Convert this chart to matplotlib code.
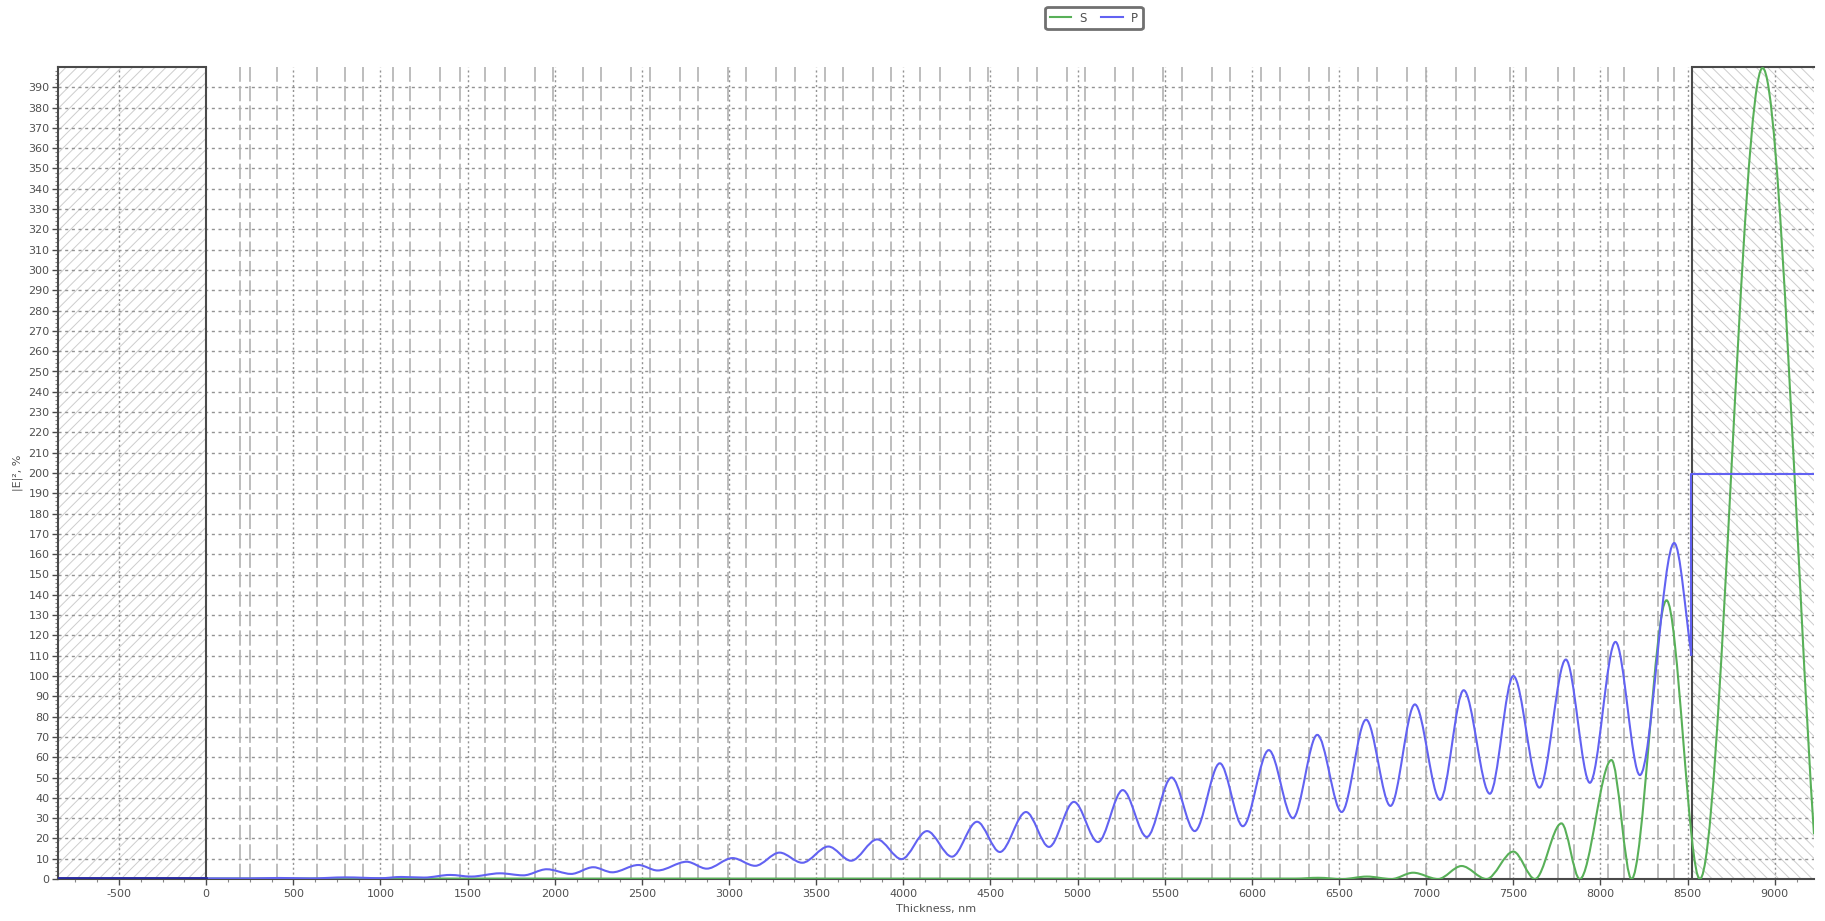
import matplotlib
matplotlib.use("Agg")
import matplotlib.pyplot as plt
from matplotlib.path import Path
from matplotlib.patches import PathPatch, Rectangle
from matplotlib.lines import Line2D

# ---------------- data ----------------
x_range = (-850, 9225)
y_range = (0, 400)
substrate_end = 0
stack_end = 8525

# layer interfaces inside the coating, nm
layer_bounds = [195, 252, 407, 637, 797, 901, 1073, 1170, 1342, 1457, 1600, 1715,
                1887, 1990, 2163, 2268, 2440, 2545, 2717, 2822, 2994, 3099, 3271,
                3376, 3548, 3653, 3825, 3930, 4096, 4210, 4383, 4488, 4660, 4765,
                4937, 5042, 5214, 5319, 5491, 5597, 5769, 5874, 6050, 6161, 6330,
                6440, 6610, 6720, 6890, 7000, 7170, 7280, 7480, 7570, 7757, 7847,
                8044, 8134, 8330, 8420]

# P polarisation: extrema of |E|^2 (x in nm, y in %)
p_x = [-850, 0, 250, 420, 600, 800, 1000, 1120, 1250, 1400, 1520, 1686, 1820,
       1954, 2094, 2221, 2330, 2480, 2590, 2757, 2872, 3020, 3150, 3290, 3420,
       3570, 3700, 3850, 3990, 4136, 4279, 4423, 4554, 4704, 4836, 4979, 5117,
       5259, 5397, 5539, 5672, 5816, 5948, 6097, 6235, 6375, 6515, 6655, 6795,
       6935, 7080, 7215, 7365, 7500, 7650, 7801, 7939, 8086, 8226, 8423, 8522]
p_y = [0.3, 0.3, 0.3, 0.5, 0.3, 0.8, 0.4, 1.0, 0.7, 2.0, 1.2, 2.8, 1.8,
       4.8, 2.5, 5.8, 3.3, 6.9, 4.2, 8.5, 5.1, 10.3, 6.5, 13.0, 8.0,
       16.0, 9.0, 19.5, 9.8, 23.6, 11.0, 28.2, 13.3, 33.0, 15.8, 38.0, 18.2,
       43.8, 20.7, 50.0, 23.6, 57.0, 26.0, 63.5, 30.0, 71.0, 33.0, 78.5, 36.0,
       86.0, 39.0, 93.0, 42.0, 100.0, 45.0, 108.1, 47.4, 116.8, 51.2, 165.5, 110.3]
p_ambient = 199.5

# S polarisation: extrema of |E|^2
s_x = [-850, 6250, 6380, 6520, 6660, 6801, 6925, 7068, 7203, 7346, 7500, 7624,
       7776, 7881, 8063, 8178, 8379, 8570, 8930, 9225]
s_y = [0.2, 0.2, 0.6, 0.0, 1.2, 0.0, 3.1, 0.0, 6.4, 0.0, 13.5, 0.0,
       27.4, 0.0, 58.6, 0.0, 137.3, 0.0, 399.5, 22.0]

x_ticks = list(range(-500, 9001, 500))
y_ticks = list(range(0, 391, 10))

# ---------------- styling ----------------
plt.rcParams["font.family"] = ["DejaVu Sans"]
plt.rcParams["axes.unicode_minus"] = False
plt.rcParams["lines.scale_dashes"] = False
plt.rcParams["hatch.linewidth"] = 0.7

C_P = "#6262f2"
C_S = "#58b058"
C_FRAME = "#4a4a4a"
C_GRID = "#939393"
C_LAYER = "#b2b2b2"
C_TEXT = "#505050"

fig = plt.figure(figsize=(18.25, 9.21), dpi=100)
ax = fig.add_axes([58 / 1825, 1 - 879 / 921, (1814 - 58) / 1825, (879 - 67) / 921])
ax.set_xlim(*x_range)
ax.set_ylim(*y_range)


def smooth_path(xs, ys, free_end=False):
    verts = [(xs[0], ys[0])]
    codes = [Path.MOVETO]
    n = len(xs)
    for i in range(n - 1):
        x0, y0, x1, y1 = xs[i], ys[i], xs[i + 1], ys[i + 1]
        dx = x1 - x0
        c1 = (x0 + dx / 3, y0)
        if free_end and i == n - 2:
            c2 = (x0 + 2 * dx / 3, y0 + 2 * (y1 - y0) / 3)
        else:
            c2 = (x1 - dx / 3, y1)
        verts += [c1, c2, (x1, y1)]
        codes += [Path.CURVE4] * 3
    return Path(verts, codes)


# hatched substrate / ambient regions
for (a, b, h) in [(x_range[0], substrate_end, "///"), (stack_end, x_range[1], "\\\\\\")]:
    ax.add_patch(Rectangle((a, 0), b - a, 400, fill=False, hatch=h,
                           edgecolor="#cdcdcd", linewidth=0, zorder=0.5))

# grid: horizontal dotted
for y in y_ticks[1:]:
    ax.axhline(y, color=C_GRID, lw=1.0, ls=(0, (2.2, 2.6)), zorder=1)
# vertical dotted at major ticks
for x in x_ticks:
    if x != 0:
        ax.axvline(x, color=C_GRID, lw=1.0, ls=(0, (1.5, 2.0)), zorder=1)
# layer interfaces
for x in layer_bounds:
    ax.axvline(x, color=C_LAYER, lw=1.2, ls=(0, (11, 3)), zorder=1.2)

# frames of substrate / ambient
ax.plot([substrate_end, substrate_end], [0, 400], color=C_FRAME, lw=1.5, zorder=2)
ax.plot([x_range[0], substrate_end], [400, 400], color=C_FRAME, lw=1.5, zorder=2, clip_on=False)
ax.plot([stack_end, stack_end], [0, 400], color=C_FRAME, lw=1.5, zorder=2)
ax.plot([stack_end, x_range[1]], [400, 400], color=C_FRAME, lw=1.5, zorder=2, clip_on=False)

# curves
ax.add_patch(PathPatch(smooth_path(s_x, s_y, free_end=True), fill=False,
                       edgecolor=C_S, lw=1.5, zorder=3))
ax.add_patch(PathPatch(smooth_path(p_x, p_y, free_end=True), fill=False,
                       edgecolor=C_P, lw=1.5, zorder=3.5))
ax.plot([p_x[-1], p_x[-1], x_range[1]], [p_y[-1], p_ambient, p_ambient],
        color=C_P, lw=1.5, zorder=3.5)
ax.plot([x_range[0], substrate_end], [0.4, 0.4], color="#2a2aa0", lw=2.0, zorder=3.6)

# spines & ticks
for s in ["top", "right"]:
    ax.spines[s].set_visible(False)
for s in ["left", "bottom"]:
    ax.spines[s].set_color(C_FRAME)
    ax.spines[s].set_linewidth(1.5)

ax.set_xticks(x_ticks)
ax.set_xticks(list(range(-750, 9225, 125)), minor=True)
ax.set_yticks(y_ticks)
ax.set_yticks(list(range(0, 400, 2)), minor=True)
ax.tick_params(axis="both", which="major", labelsize=8, colors=C_FRAME,
               labelcolor=C_TEXT, length=4, width=1)
ax.tick_params(axis="both", which="minor", colors="#888888", length=2.5, width=0.8)
ax.tick_params(axis="y", pad=2)

ax.set_xlabel("Thickness, nm", fontsize=8, color=C_TEXT, labelpad=3)
ax.set_ylabel("|E|², %", fontsize=8, color=C_TEXT, labelpad=4)

handles = [Line2D([], [], color=C_S, lw=1.5, label="S"),
           Line2D([], [], color=C_P, lw=1.5, label="P")]
leg = fig.legend(handles=handles, loc="center", bbox_to_anchor=(1094 / 1825, 1 - 18 / 921),
                 ncol=2, fontsize=8.5, frameon=True, fancybox=True, framealpha=1,
                 edgecolor="#707070", handlelength=1.8, columnspacing=1.2,
                 handletextpad=0.7, borderpad=0.4)
leg.get_frame().set_linewidth(2)
for t in leg.get_texts():
    t.set_color(C_TEXT)

fig.savefig("out.png", dpi=100)
